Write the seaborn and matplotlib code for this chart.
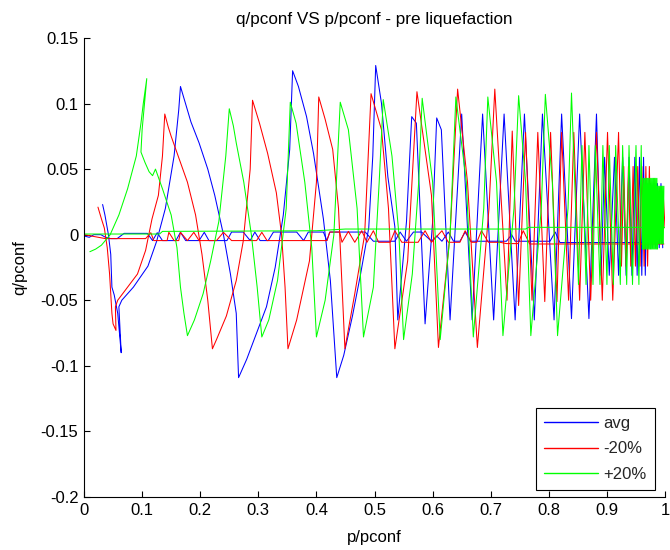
import numpy as np
import pandas as pd
import matplotlib
matplotlib.use('Agg')
import matplotlib.pyplot as plt
import seaborn as sns

# avg (blue) -- main cyclic path
p_avg = [0.032, 0.036, 0.042, 0.046, 0.048, 0.052, 0.058, 0.060, 0.064, 0.060,
         0.065, 0.085, 0.110, 0.125, 0.140, 0.155, 0.163, 0.166, 0.178, 0.184,
         0.198, 0.213, 0.225, 0.240, 0.252, 0.262, 0.266, 0.280, 0.297, 0.314,
         0.329, 0.343, 0.354, 0.359, 0.369, 0.383, 0.395, 0.412, 0.424, 0.435,
         0.447, 0.462, 0.476, 0.490, 0.497, 0.502, 0.512, 0.523, 0.535, 0.540,
         0.555, 0.564, 0.572, 0.587, 0.600, 0.607, 0.615, 0.630, 0.650, 0.668,
         0.686, 0.705, 0.723, 0.742, 0.758, 0.775, 0.789, 0.809, 0.822, 0.839,
         0.853, 0.869, 0.882, 0.890, 0.896, 0.904, 0.913, 0.920, 0.927, 0.933,
         0.938, 0.943, 0.948, 0.952, 0.956, 0.960, 0.963, 0.966, 0.969, 0.972,
         0.975, 0.978, 0.981, 0.984, 0.987, 0.990, 0.993, 0.996]
q_avg = [0.023, 0.015, 0.000, -0.015, -0.040, -0.046, -0.060, -0.070, -0.090, -0.055,
         -0.050, -0.040, -0.024, -0.005, 0.020, 0.060, 0.095, 0.113, 0.095, 0.086,
         0.070, 0.050, 0.030, 0.000, -0.030, -0.060, -0.109, -0.095, -0.075, -0.055,
         -0.025, 0.015, 0.065, 0.125, 0.113, 0.090, 0.062, 0.012, -0.035, -0.109,
         -0.092, -0.062, -0.030, 0.005, 0.060, 0.129, 0.100, 0.044, 0.006, -0.065,
         0.010, 0.090, 0.085, -0.068, 0.010, 0.089, 0.080, -0.065, 0.092, -0.065,
         0.092, -0.065, 0.092, -0.065, 0.092, -0.065, 0.092, -0.065, 0.092, -0.064,
         0.092, -0.064, 0.092, -0.031, 0.059, -0.031, 0.059, -0.031, 0.059, -0.031,
         0.059, -0.031, 0.059, -0.031, 0.059, -0.031, 0.059, -0.031, 0.039, -0.010,
         0.039, -0.010, 0.039, -0.010, 0.039, -0.010, 0.039, -0.010]
# avg -- small zigzag near q = 0
p_avg_base = [0.000, 0.009, 0.017, 0.029, 0.037, 0.046, 0.057, 0.069, 0.109, 0.118,
              0.126, 0.135, 0.158, 0.166, 0.175, 0.198, 0.207, 0.215, 0.246, 0.254,
              0.274, 0.286, 0.294, 0.303, 0.317, 0.326, 0.366, 0.378, 0.386, 0.412,
              0.418, 0.423, 0.466, 0.484, 0.498, 0.535, 0.544, 0.555, 0.567, 0.581,
              0.598, 0.607, 0.616, 0.627, 0.636, 0.647, 0.656, 0.665, 0.699, 0.727,
              0.736, 0.742, 0.802, 0.811, 0.819, 0.960]
q_avg_base = [-0.001, -0.002, 0.000, 0.000, -0.002, -0.003, -0.003, 0.001, 0.001, -0.0045,
              0.0015, -0.0045, -0.0045, 0.0018, -0.0045, -0.0045, 0.0018, -0.0045, -0.0045, 0.002,
              0.002, -0.0045, 0.002, -0.0045, -0.0045, 0.002, 0.002, -0.0045, 0.002, 0.002,
              -0.0045, 0.002, 0.002, 0.002, -0.005, -0.005, 0.002, -0.005, 0.002, 0.002,
              -0.005, -0.001, -0.005, 0.002, -0.005, -0.005, 0.002, -0.005, -0.005, -0.005,
              0.000, -0.005, -0.005, 0.002, -0.006, -0.006]

# -20% (red)
p_m20 = [0.024, 0.030, 0.035, 0.040, 0.044, 0.046, 0.048, 0.050, 0.055, 0.054,
         0.058, 0.075, 0.092, 0.106, 0.117, 0.128, 0.135, 0.139, 0.145, 0.150,
         0.162, 0.178, 0.192, 0.203, 0.213, 0.221, 0.228, 0.245, 0.262, 0.274,
         0.286, 0.290, 0.302, 0.316, 0.331, 0.340, 0.346, 0.351, 0.366, 0.388,
         0.400, 0.404, 0.415, 0.428, 0.438, 0.449, 0.466, 0.483, 0.494, 0.512,
         0.524, 0.535, 0.557, 0.573, 0.598, 0.610, 0.630, 0.643, 0.660, 0.677,
         0.697, 0.707, 0.728, 0.737, 0.748, 0.760, 0.771, 0.781, 0.793, 0.803,
         0.814, 0.822, 0.834, 0.843, 0.853, 0.862, 0.872, 0.882, 0.892, 0.901,
         0.910, 0.920, 0.925, 0.929, 0.933, 0.937, 0.941, 0.945, 0.949, 0.953,
         0.957, 0.960, 0.964, 0.967, 0.970, 0.973, 0.976, 0.979, 0.982, 0.985,
         0.988, 0.991, 0.994, 0.997, 1.000]
q_m20 = [0.021, 0.012, 0.005, -0.010, -0.030, -0.045, -0.060, -0.068, -0.073, -0.055,
         -0.050, -0.040, -0.030, -0.012, 0.012, 0.030, 0.060, 0.092, 0.082, 0.075,
         0.060, 0.040, 0.015, -0.015, -0.050, -0.087, -0.080, -0.062, -0.035, -0.005,
         0.050, 0.1025, 0.085, 0.062, 0.032, 0.000, -0.040, -0.087, -0.065, -0.020,
         0.040, 0.105, 0.088, 0.065, 0.020, -0.087, -0.045, 0.000, 0.1075, 0.080,
         0.020, -0.087, -0.020, 0.109, 0.030, -0.086, 0.000, 0.111, 0.040, -0.086,
         0.020, 0.111, -0.050, 0.079, -0.054, 0.078, -0.050, 0.078, -0.051, 0.078,
         -0.051, 0.078, -0.050, 0.078, -0.050, 0.078, -0.050, 0.078, -0.050, 0.078,
         -0.050, 0.078, -0.024, 0.052, -0.024, 0.052, -0.024, 0.052, -0.024, 0.052,
         -0.024, 0.052, -0.024, 0.052, -0.024, 0.052, -0.007, 0.036, -0.007, 0.036,
         -0.007, 0.036, -0.007, 0.030, 0.005]
p_m20_base = [0.000, 0.037, 0.106, 0.115, 0.120, 0.143, 0.146, 0.155, 0.163, 0.166,
              0.178, 0.189, 0.198, 0.228, 0.240, 0.254, 0.297, 0.306, 0.315, 0.418,
              0.423, 0.440, 0.444, 0.455, 0.466, 0.478, 0.487, 0.498, 0.507, 0.527,
              0.535, 0.547, 0.575, 0.587, 0.598, 0.616, 0.627, 0.647, 0.656, 0.667,
              0.676, 0.684, 0.696, 0.716, 0.727, 0.747, 0.756, 0.767, 0.998]
q_m20_base = [0.000, -0.003, -0.003, 0.0015, -0.0045, -0.0045, 0.0018, -0.0045, -0.0045, 0.0018,
              -0.0045, 0.0018, -0.0045, -0.0045, 0.0018, -0.0045, -0.0045, 0.0018, -0.0045, -0.0045,
              0.002, 0.002, -0.0058, 0.0025, -0.0058, 0.003, -0.0058, 0.003, -0.0058, -0.0058,
              0.003, -0.0058, -0.0058, 0.003, -0.0058, 0.003, -0.0058, -0.0058, 0.003, -0.0058,
              -0.0058, 0.003, -0.0058, -0.0058, -0.0068, -0.0068, 0.003, -0.0071, -0.0071]

# +20% (green)
p_p20 = [0.010, 0.020, 0.030, 0.045, 0.060, 0.075, 0.090, 0.098, 0.102, 0.108,
         0.100, 0.098, 0.105, 0.112, 0.118, 0.123, 0.135, 0.150, 0.160, 0.166,
         0.172, 0.178, 0.190, 0.205, 0.218, 0.232, 0.244, 0.250, 0.257, 0.262,
         0.275, 0.288, 0.298, 0.306, 0.318, 0.333, 0.348, 0.355, 0.365, 0.380,
         0.392, 0.400, 0.415, 0.430, 0.441, 0.455, 0.470, 0.481, 0.498, 0.508,
         0.515, 0.530, 0.542, 0.550, 0.565, 0.576, 0.582, 0.600, 0.613, 0.630,
         0.640, 0.658, 0.670, 0.688, 0.695, 0.710, 0.721, 0.740, 0.748, 0.760,
         0.769, 0.787, 0.794, 0.806, 0.815, 0.833, 0.839, 0.851, 0.857, 0.864,
         0.869, 0.876, 0.880, 0.888, 0.893, 0.900, 0.904, 0.911, 0.915, 0.923,
         0.927, 0.934, 0.938, 0.944, 0.950, 0.955, 0.959,
         0.961, 0.962, 0.963, 0.964, 0.965, 0.966, 0.967, 0.968, 0.969, 0.970,
         0.971, 0.972, 0.973, 0.974, 0.975, 0.976, 0.977, 0.978, 0.979, 0.980,
         0.981, 0.982, 0.983, 0.984, 0.985, 0.986, 0.987, 0.988, 0.989, 0.990,
         0.991, 0.992, 0.993, 0.994, 0.995, 0.996, 0.997, 0.998]
q_p20 = [-0.013, -0.011, -0.008, 0.000, 0.015, 0.035, 0.060, 0.085, 0.100, 0.119,
         0.080, 0.063, 0.055, 0.048, 0.045, 0.050, 0.035, 0.015, -0.010, -0.040,
         -0.060, -0.077, -0.065, -0.045, -0.020, 0.010, 0.060, 0.096, 0.083, 0.070,
         0.040, 0.000, -0.040, -0.078, -0.065, -0.035, 0.020, 0.101, 0.085, 0.040,
         -0.010, -0.078, -0.050, 0.000, 0.101, 0.080, 0.020, -0.078, -0.040, 0.040,
         0.103, 0.060, 0.000, -0.080, -0.030, 0.040, 0.104, 0.040, -0.080, 0.000,
         0.105, 0.040, -0.078, 0.020, 0.105, 0.040, -0.077, 0.020, 0.106, 0.040,
         -0.077, 0.020, 0.107, 0.040, -0.077, 0.020, 0.108, -0.038, 0.068, -0.038,
         0.068, -0.038, 0.068, -0.038, 0.068, -0.038, 0.068, -0.038, 0.068, -0.038,
         0.068, -0.038, 0.068, -0.038, 0.068, -0.038, 0.068,
         -0.011, 0.043, -0.011, 0.043, -0.011, 0.043, -0.011, 0.043, -0.011, 0.043,
         -0.011, 0.043, -0.011, 0.043, -0.011, 0.043, -0.011, 0.043, -0.011, 0.043,
         -0.011, 0.043, -0.011, 0.043, -0.011, 0.043, -0.011, 0.037, -0.007, 0.037,
         -0.007, 0.037, -0.007, 0.037, -0.007, 0.037, -0.007, 0.037]
p_p20_base = [0.000, 0.130, 0.135, 0.400, 0.450, 0.760, 0.765, 1.000]
q_p20_base = [0.0005, 0.0005, 0.0025, 0.003, 0.0043, 0.0043, 0.0056, 0.0056]

series = ['avg', '-20%', '+20%']
colors = {'avg': '#0000ff', '-20%': '#ff0000', '+20%': '#00ff00'}
x_ticks = [0, 0.1, 0.2, 0.3, 0.4, 0.5, 0.6, 0.7, 0.8, 0.9, 1]
x_labels = ['0', '0.1', '0.2', '0.3', '0.4', '0.5', '0.6', '0.7', '0.8', '0.9', '1']
y_ticks = [-0.2, -0.15, -0.1, -0.05, 0, 0.05, 0.1, 0.15]
y_labels = ['-0.2', '-0.15', '-0.1', '-0.05', '0', '0.05', '0.1', '0.15']

pieces = [('avg', 'avg_main', p_avg, q_avg), ('avg', 'avg_base', p_avg_base, q_avg_base),
          ('-20%', 'm20_main', p_m20, q_m20), ('-20%', 'm20_base', p_m20_base, q_m20_base),
          ('+20%', 'p20_main', p_p20, q_p20), ('+20%', 'p20_base', p_p20_base, q_p20_base)]
df = pd.concat([pd.DataFrame({'p': p, 'q': q, 'series': s, 'piece': k})
                for s, k, p, q in pieces], ignore_index=True)

sns.set_theme(style='white')
plt.rcParams['font.family'] = ['Liberation Sans', 'DejaVu Sans']
plt.rcParams['axes.unicode_minus'] = False

fig = plt.figure(figsize=(6.7, 5.5), dpi=100)
ax = fig.add_axes([0.1254, 0.0964, 0.8672, 0.8346])
sns.lineplot(data=df, x='p', y='q', hue='series', hue_order=series, units='piece',
             estimator=None, sort=False, palette=colors, linewidth=0.75, ax=ax)

ax.set_xlim(0, 1)
ax.set_ylim(-0.2, 0.15)
ax.set_xticks(x_ticks)
ax.set_xticklabels(x_labels)
ax.set_yticks(y_ticks)
ax.set_yticklabels(y_labels)
ax.tick_params(direction='in', length=4, width=0.8, colors='black', labelsize=12,
               bottom=True, left=True, top=False, right=False, pad=4)
sns.despine(ax=ax)
for s in ['left', 'bottom']:
    ax.spines[s].set_color('black'); ax.spines[s].set_linewidth(0.8)

ax.set_title('q/pconf VS p/pconf - pre liquefaction', fontsize=12.3, color='black', pad=10)
ax.set_xlabel('p/pconf', fontsize=12, color='black', labelpad=9)
ax.set_ylabel('q/pconf', fontsize=12, color='black', labelpad=10)

h, l = ax.get_legend_handles_labels()
leg = ax.legend(h, l, loc='lower right', bbox_to_anchor=(0.983, 0.015), borderaxespad=0,
                frameon=True, fancybox=False, edgecolor='black', framealpha=1,
                handlelength=3.2, handletextpad=0.35, labelspacing=0.62,
                borderpad=0.5, fontsize=12)
leg.get_frame().set_linewidth(0.8)
for line, s in zip(leg.get_lines(), series):
    line.set_linewidth(1.0)
    line.set_color(colors[s])
    line.set_alpha(1)

fig.savefig('out.png', dpi=100)
